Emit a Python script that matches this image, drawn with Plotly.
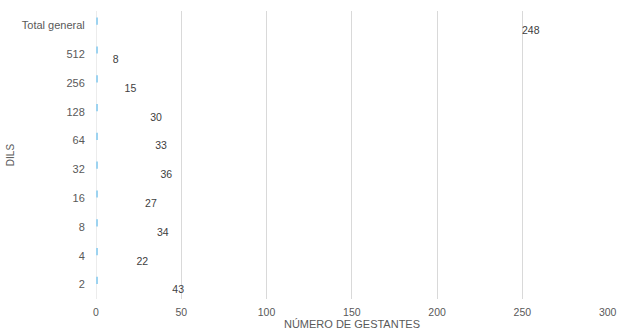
import plotly.graph_objects as go

categories = ["2", "4", "8", "16", "32", "64", "128", "256", "512", "Total general"]
gestantes = [43, 22, 34, 27, 36, 33, 30, 15, 8, 248]
marker_series = [1, 1, 1, 1, 1, 1, 1, 1, 1, 1]
x_ticks = [0, 50, 100, 150, 200, 250, 300]

font = "Liberation Sans, Arial, sans-serif"

fig = go.Figure()
fig.add_trace(go.Bar(
    y=categories, x=marker_series, orientation="h",
    marker=dict(color="#9dd3f0", line=dict(width=0)),
    width=0.25, offset=0.02, hoverinfo="skip", showlegend=False,
))
fig.add_trace(go.Bar(
    y=categories, x=gestantes, orientation="h",
    marker=dict(color="rgba(0,0,0,0)", line=dict(width=0)),
    width=0.25, offset=-0.29,
    text=[str(v) for v in gestantes], textposition="outside",
    constraintext="none",
    textfont=dict(family=font, size=10.5, color="#404040"),
    outsidetextfont=dict(family=font, size=10.5, color="#404040"),
    cliponaxis=False, showlegend=False, hoverinfo="skip",
))

fig.update_layout(
    width=617, height=333,
    margin=dict(l=96, r=9, t=11, b=34),
    paper_bgcolor="white", plot_bgcolor="white",
    barmode="overlay",
    font=dict(family=font, size=11, color="#595959"),
    xaxis=dict(
        range=[0, 300.2], tickvals=x_ticks, showgrid=True, gridcolor="#d9d9d9",
        gridwidth=1, zeroline=False, showline=False, ticks="outside", ticklen=3,
        tickcolor="rgba(0,0,0,0)", tickfont=dict(size=10.5, color="#595959"),
        title=dict(text="NÚMERO DE GESTANTES", font=dict(size=11, color="#595959"), standoff=1),
        automargin=False,
    ),
    yaxis=dict(
        type="category", categoryorder="array", categoryarray=categories,
        range=[-0.5, 9.5], showgrid=False, zeroline=False, showline=False,
        ticks="outside", ticklen=8, tickcolor="rgba(0,0,0,0)",
        tickfont=dict(size=11, color="#595959"),
        title=dict(text="DILS", font=dict(size=10, color="#595959"), standoff=5),
        automargin=False,
    ),
)
fig.add_shape(type="line", xref="x", yref="paper", x0=0, x1=0, y0=0, y1=1,
              line=dict(color="#d9d9d9", width=1), layer="below")

fig.write_html("out.html")
